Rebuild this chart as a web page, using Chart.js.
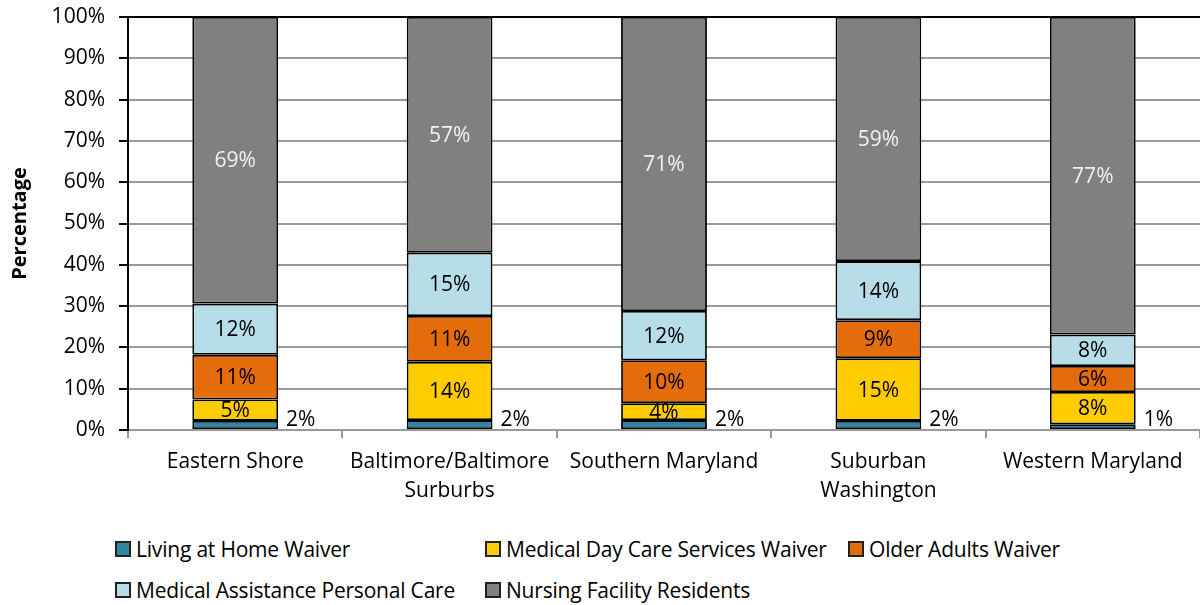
<!DOCTYPE html>
<html>
<head>
<meta charset="utf-8">
<script src="https://cdn.jsdelivr.net/npm/chart.js@4.4.1/dist/chart.umd.min.js"></script>
<style>
  body { margin:0; background:#fff; font-family:"Open Sans", sans-serif; }
  #wrap { position:relative; width:1200px; height:520px; }
  #legend { position:absolute; left:115px; top:536px; display:grid; grid-template-columns:370px 363px 300px; row-gap:15px; font-size:21px; color:#000; }
  #legend div { display:flex; align-items:center; height:26px; white-space:nowrap; letter-spacing:-0.2px; }
  #legend span { display:inline-block; width:12px; height:12px; border:2px solid #222; margin-right:5px; }
</style>
</head>
<body>
<div id="wrap"><canvas id="chart" width="1200" height="520"></canvas></div>
<div id="legend"></div>
<script>
const regions = ['Eastern Shore', ['Baltimore/Baltimore', 'Surburbs'], 'Southern Maryland', ['Suburban', 'Washington'], 'Western Maryland'];
const seriesNames = ['Living at Home Waiver', 'Medical Day Care Services Waiver', 'Older Adults Waiver', 'Medical Assistance Personal Care', 'Nursing Facility Residents'];
const livingAtHome = [2.2, 2.4, 2.4, 2.2, 1.4];
const medicalDayCare = [5.2, 14.1, 4.1, 15.2, 7.8];
const olderAdults = [10.8, 11.1, 10.4, 9.2, 6.3];
const personalCare = [12.4, 15.3, 11.9, 14.3, 7.6];
const nursingFacility = [69.4, 57.1, 71.2, 59.1, 76.9];
const yTicks = [0, 10, 20, 30, 40, 50, 60, 70, 80, 90, 100];
const colors = ['#31859C', '#FFCC00', '#E46C0A', '#B7DEE8', '#808080'];
const font = '"Open Sans", sans-serif';

const seriesData = [livingAtHome, medicalDayCare, olderAdults, personalCare, nursingFacility];

// value labels, drawn by hand since there's no datalabels plugin here
const valueLabels = {
  id: 'valueLabels',
  afterDatasetsDraw(chart) {
    const ctx = chart.ctx;
    ctx.save();
    ctx.font = '21px ' + font;
    chart.data.datasets.forEach((ds, i) => {
      chart.getDatasetMeta(i).data.forEach((bar, j) => {
        const txt = Math.round(ds.data[j]) + '%';
        if (i == 0) {
          ctx.fillStyle = '#000';
          ctx.textAlign = 'left';
          ctx.textBaseline = 'middle';
          ctx.fillText(txt, bar.x + bar.width / 2 + 8, bar.base - 9);
        } else {
          ctx.fillStyle = i == 4 ? '#f2f2f2' : '#000';
          ctx.textAlign = 'center';
          ctx.textBaseline = 'middle';
          ctx.fillText(txt, bar.x, (bar.y + bar.base) / 2 + 1);
        }
      });
    });
    ctx.restore();
  }
};

const chart = new Chart(document.getElementById('chart'), {
  type: 'bar',
  data: {
    labels: regions,
    datasets: seriesData.map((d, i) => ({
      label: seriesNames[i],
      data: d,
      backgroundColor: colors[i],
      borderColor: '#000',
      borderWidth: 1.8,
      borderSkipped: false,
      barPercentage: 0.8,
      categoryPercentage: 0.5
    }))
  },
  options: {
    responsive: false,
    animation: false,
    devicePixelRatio: 1,
    layout: { padding: { top: 17, right: 0, left: 0, bottom: 0 } },
    plugins: { legend: { display: false }, tooltip: { enabled: false } },
    scales: {
      x: {
        stacked: true,
        grid: { offset: true, drawOnChartArea: false, color: '#999', tickLength: 8, lineWidth: 2 },
        border: { color: '#999', width: 2 },
        ticks: { color: '#000', font: { family: font, size: 21, lineHeight: 1.35 }, autoSkip: false, maxRotation: 0, padding: 10 },
        afterFit(s) { s.height = 90; s.paddingLeft = 0; s.paddingRight = 0; }
      },
      y: {
        stacked: true,
        min: 0, max: 100,
        afterBuildTicks(s) { s.ticks = yTicks.map(v => ({ value: v })); },
        grid: {
          color: c => c.tick && c.tick.value == 100 ? '#000' : '#999',
          lineWidth: 2,
          tickColor: '#000',
          tickLength: 9
        },
        border: { color: '#000', width: 2 },
        ticks: { color: '#000', font: { family: font, size: 21 }, padding: 14, callback: v => v + '%' },
        title: { display: true, text: 'Percentage', color: '#000', font: { family: font, size: 20, weight: 'bold' }, padding: { top: 8, bottom: 4 } },
        afterFit(s) { s.width = 128; s.paddingTop = 0; s.paddingBottom = 0; }
      }
    }
  },
  plugins: [valueLabels]
});

document.getElementById('legend').innerHTML = chart.data.datasets.map(ds =>
  `<div><span style="background:${ds.backgroundColor}"></span>${ds.label}</div>`).join('');
</script>
</body>
</html>
